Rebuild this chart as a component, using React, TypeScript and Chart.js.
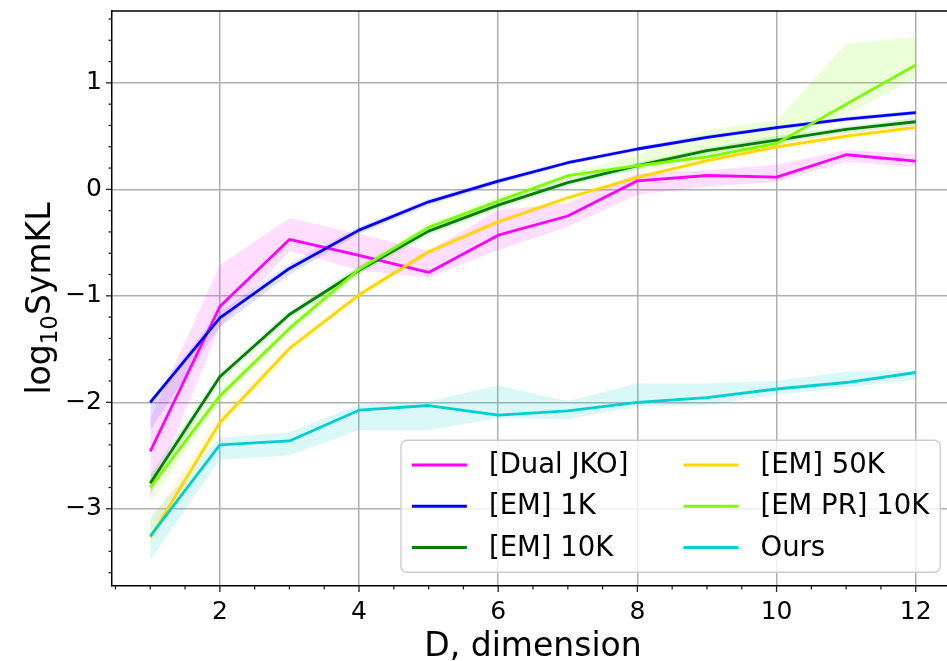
import React, { useEffect, useRef } from 'react';
import { Chart, registerables } from 'chart.js';

Chart.register(...registerables);

// ---- data ---------------------------------------------------------------
const dims = [1, 2, 3, 4, 5, 6, 7, 8, 9, 10, 11, 12];

const dualJko = [-2.46, -1.1, -0.47, -0.62, -0.78, -0.43, -0.25, 0.08, 0.13, 0.115, 0.325, 0.265];
const dualJkoLo = [-2.88, -1.29, -0.58, -0.76, -0.83, -0.57, -0.35, -0.05, 0.025, 0.07, 0.26, 0.21];
const dualJkoHi = [-2.15, -0.71, -0.27, -0.42, -0.58, -0.195, -0.13, 0.15, 0.18, 0.23, 0.37, 0.33];

const em1k = [-2.0, -1.207, -0.743, -0.383, -0.117, 0.078, 0.25, 0.379, 0.488, 0.579, 0.66, 0.72];
const em1kLo = [-2.26, -1.29, -0.8, -0.42, -0.15, 0.05, 0.23, 0.36, 0.47, 0.56, 0.64, 0.7];
const em1kHi = [-1.97, -1.15, -0.7, -0.35, -0.09, 0.1, 0.27, 0.4, 0.51, 0.6, 0.68, 0.74];

const em10k = [-2.76, -1.76, -1.175, -0.76, -0.392, -0.148, 0.063, 0.222, 0.363, 0.463, 0.563, 0.635];
const em10kLo = [-2.85, -1.81, -1.21, -0.8, -0.43, -0.18, 0.03, 0.19, 0.33, 0.43, 0.53, 0.6];
const em10kHi = [-2.68, -1.72, -1.14, -0.72, -0.36, -0.11, 0.1, 0.25, 0.39, 0.5, 0.59, 0.67];

const em50k = [-3.27, -2.19, -1.494, -0.99, -0.586, -0.304, -0.079, 0.113, 0.269, 0.4, 0.5, 0.583];
const em50kLo = [-3.33, -2.25, -1.53, -1.02, -0.62, -0.33, -0.11, 0.08, 0.24, 0.37, 0.47, 0.555];
const em50kHi = [-3.12, -2.12, -1.46, -0.96, -0.555, -0.275, -0.05, 0.14, 0.3, 0.43, 0.53, 0.61];

const emPr10k = [-2.8, -1.94, -1.306, -0.75, -0.357, -0.11, 0.128, 0.222, 0.306, 0.432, 0.8, 1.168];
const emPr10kLo = [-2.94, -2.0, -1.35, -0.8, -0.39, -0.14, 0.1, 0.17, 0.28, 0.4, 0.7, 1.04];
const emPr10kHi = [-2.7, -1.88, -1.26, -0.71, -0.32, -0.07, 0.15, 0.32, 0.56, 0.65, 1.37, 1.43];

const ours = [-3.256, -2.4, -2.363, -2.074, -2.03, -2.12, -2.08, -2.0, -1.956, -1.875, -1.814, -1.72];
const oursLo = [-3.48, -2.54, -2.5, -2.26, -2.26, -2.15, -2.16, -2.04, -2.03, -1.93, -1.86, -1.785];
const oursHi = [-3.08, -2.33, -2.28, -2.02, -1.99, -1.84, -1.99, -1.82, -1.82, -1.8, -1.71, -1.7];

const xTicks = [2, 4, 6, 8, 10, 12];
const yTicks = [-3, -2, -1, 0, 1];

const series = [
  { label: '[Dual JKO]', color: '#ff00ff', band: 'rgba(255,0,255,0.13)', mean: dualJko, lo: dualJkoLo, hi: dualJkoHi },
  { label: '[EM] 1K', color: '#0000ff', band: 'rgba(0,0,255,0.12)', mean: em1k, lo: em1kLo, hi: em1kHi },
  { label: '[EM] 10K', color: '#008000', band: 'rgba(0,128,0,0.12)', mean: em10k, lo: em10kLo, hi: em10kHi },
  { label: '[EM] 50K', color: '#ffd700', band: 'rgba(255,215,0,0.15)', mean: em50k, lo: em50kLo, hi: em50kHi },
  { label: '[EM PR] 10K', color: '#7cfc00', band: 'rgba(124,252,0,0.15)', mean: emPr10k, lo: emPr10kLo, hi: emPr10kHi },
  { label: 'Ours', color: '#00ced1', band: 'rgba(0,206,209,0.14)', mean: ours, lo: oursLo, hi: oursHi },
];

const FONT = '"DejaVu Sans", sans-serif';
const LINE_W = 2.8;

const pts = (ys: number[]) => dims.map((x, i) => ({ x, y: ys[i] }));
const fmt = (v: number) => (v < 0 ? '\u2212' + Math.abs(v) : String(v));

// spines, tick marks, axis titles and legend
const decorations = {
  id: 'decorations',
  afterDraw(chart: any) {
    const { ctx, chartArea: a, scales } = chart;
    const xs = scales.x;
    const ys = scales.y;
    ctx.save();
    // top spine
    ctx.strokeStyle = '#000';
    ctx.lineWidth = 1.5;
    ctx.beginPath();
    ctx.moveTo(a.left - 0.75, a.top);
    ctx.lineTo(a.right, a.top);
    ctx.stroke();

    // tick marks
    ctx.strokeStyle = '#222';
    ctx.lineWidth = 1.3;
    for (let v = 0.5; v <= 12.5 + 1e-9; v += 0.5) {
      const major = Math.abs(v / 2 - Math.round(v / 2)) < 1e-9;
      const px = xs.getPixelForValue(v);
      ctx.beginPath();
      ctx.moveTo(px, a.bottom);
      ctx.lineTo(px, a.bottom + (major ? 6 : 3.5));
      ctx.stroke();
    }
    for (let k = -18; k <= 8; k++) {
      const v = k * 0.2;
      if (v < ys.min || v > ys.max) continue;
      const major = k % 5 === 0;
      const py = ys.getPixelForValue(v);
      ctx.beginPath();
      ctx.moveTo(a.left, py);
      ctx.lineTo(a.left - (major ? 6 : 3.5), py);
      ctx.stroke();
    }

    // x title
    ctx.fillStyle = '#000';
    ctx.font = `33px ${FONT}`;
    ctx.textAlign = 'center';
    ctx.textBaseline = 'alphabetic';
    ctx.fillText('D, dimension', (a.left + a.right) / 2, 656);

    // y title with subscript
    ctx.save();
    ctx.translate(50, (a.top + a.bottom) / 2);
    ctx.rotate(-Math.PI / 2);
    ctx.textAlign = 'left';
    const big = `33px ${FONT}`;
    const small = `23px ${FONT}`;
    ctx.font = big;
    const w1 = ctx.measureText('log').width;
    const w3 = ctx.measureText('SymKL').width;
    ctx.font = small;
    const w2 = ctx.measureText('10').width;
    let x0 = -(w1 + w2 + w3) / 2;
    ctx.font = big;
    ctx.fillText('log', x0, 0);
    x0 += w1;
    ctx.font = small;
    ctx.fillText('10', x0, 7);
    x0 += w2;
    ctx.font = big;
    ctx.fillText('SymKL', x0, 0);
    ctx.restore();

    // legend: 2 columns, filled column-wise, lower right
    const fs = 27.5;
    ctx.font = `${fs}px ${FONT}`;
    const pad = 0.4 * fs;
    const hl = 2 * fs;
    const htp = 0.8 * fs;
    const cs = 2 * fs;
    const ls = 0.5 * fs;
    const rowH = fs;
    const bap = 0.5 * fs;
    const cols = [series.slice(0, 3), series.slice(3)];
    const colW = cols.map((c) => hl + htp + Math.max(...c.map((s) => ctx.measureText(s.label).width)));
    const w = 2 * pad + colW[0] + cs + colW[1];
    const h = 2 * pad + 3 * rowH + 2 * ls;
    const right = a.right - bap;
    const bottom = a.bottom - bap;
    const left = right - w;
    const top = bottom - h;
    const r = 6;
    ctx.beginPath();
    ctx.moveTo(left + r, top);
    ctx.lineTo(right - r, top);
    ctx.arcTo(right, top, right, top + r, r);
    ctx.lineTo(right, bottom - r);
    ctx.arcTo(right, bottom, right - r, bottom, r);
    ctx.lineTo(left + r, bottom);
    ctx.arcTo(left, bottom, left, bottom - r, r);
    ctx.lineTo(left, top + r);
    ctx.arcTo(left, top, left + r, top, r);
    ctx.closePath();
    ctx.fillStyle = 'rgba(255,255,255,0.8)';
    ctx.fill();
    ctx.strokeStyle = '#cccccc';
    ctx.lineWidth = 1.3;
    ctx.stroke();

    ctx.textAlign = 'left';
    ctx.textBaseline = 'middle';
    let cx = left + pad;
    cols.forEach((c, ci) => {
      c.forEach((s, ri) => {
        const cy = top + pad + ri * (rowH + ls) + rowH / 2;
        ctx.strokeStyle = s.color;
        ctx.lineWidth = LINE_W;
        ctx.beginPath();
        ctx.moveTo(cx, cy);
        ctx.lineTo(cx + hl, cy);
        ctx.stroke();
        ctx.fillStyle = '#000';
        ctx.fillText(s.label, cx + hl + htp, cy + 1);
      });
      cx += colW[ci] + cs;
    });
    ctx.restore();
  },
};

export default function App() {
  const ref = useRef<HTMLCanvasElement | null>(null);

  useEffect(() => {
    if (!ref.current) return;
    const datasets: any[] = [];
    series.forEach((s) => {
      datasets.push({
        label: s.label + ' lo',
        data: pts(s.lo),
        borderWidth: 0,
        pointRadius: 0,
        fill: false,
        order: 100,
      });
      datasets.push({
        label: s.label + ' hi',
        data: pts(s.hi),
        borderWidth: 0,
        pointRadius: 0,
        backgroundColor: s.band,
        fill: '-1',
        order: 100,
      });
    });
    series.forEach((s, i) => {
      datasets.push({
        label: s.label,
        data: pts(s.mean),
        borderColor: s.color,
        borderWidth: LINE_W,
        pointRadius: 0,
        fill: false,
        order: 20 - i,
      });
    });

    const chart = new Chart(ref.current, {
      type: 'line',
      data: { datasets },
      options: {
        animation: false,
        responsive: false,
        devicePixelRatio: 1,
        layout: { padding: { top: 11, left: 0, right: 0, bottom: 0 } },
        plugins: { legend: { display: false }, tooltip: { enabled: false } },
        elements: { line: { tension: 0, borderJoinStyle: 'round', borderCapStyle: 'butt' } },
        scales: {
          x: {
            type: 'linear',
            min: 0.45,
            max: 12.55,
            afterBuildTicks: (sc: any) => {
              sc.ticks = xTicks.map((value) => ({ value }));
            },
            afterFit: (sc: any) => {
              sc.height = 75;
              sc.paddingLeft = 0;
              sc.paddingRight = 0;
            },
            grid: { color: '#b0b0b0', lineWidth: 1.5, drawTicks: false },
            border: { display: true, color: '#000', width: 1.5 },
            ticks: {
              font: { family: FONT, size: 25 },
              color: '#000',
              padding: 11,
              maxRotation: 0,
              autoSkip: false,
              callback: (v: any) => fmt(Number(v)),
            },
          },
          y: {
            type: 'linear',
            min: -3.725,
            max: 1.675,
            afterBuildTicks: (sc: any) => {
              sc.ticks = yTicks.map((value) => ({ value }));
            },
            afterFit: (sc: any) => {
              sc.width = 112;
              sc.paddingTop = 0;
              sc.paddingBottom = 0;
            },
            grid: { color: '#b0b0b0', lineWidth: 1.5, drawTicks: false },
            border: { display: true, color: '#000', width: 1.5 },
            ticks: {
              font: { family: FONT, size: 25 },
              color: '#000',
              padding: 10,
              autoSkip: false,
              callback: (v: any) => fmt(Number(v)),
            },
          },
        },
      },
      plugins: [decorations],
    });
    return () => chart.destroy();
  }, []);

  return (
    <div
      style={{
        position: 'absolute',
        left: 0,
        top: 0,
        width: 947,
        height: 661,
        overflow: 'hidden',
        background: '#fff',
      }}
    >
      <canvas ref={ref} width={954} height={661} style={{ display: 'block' }} />
    </div>
  );
}
